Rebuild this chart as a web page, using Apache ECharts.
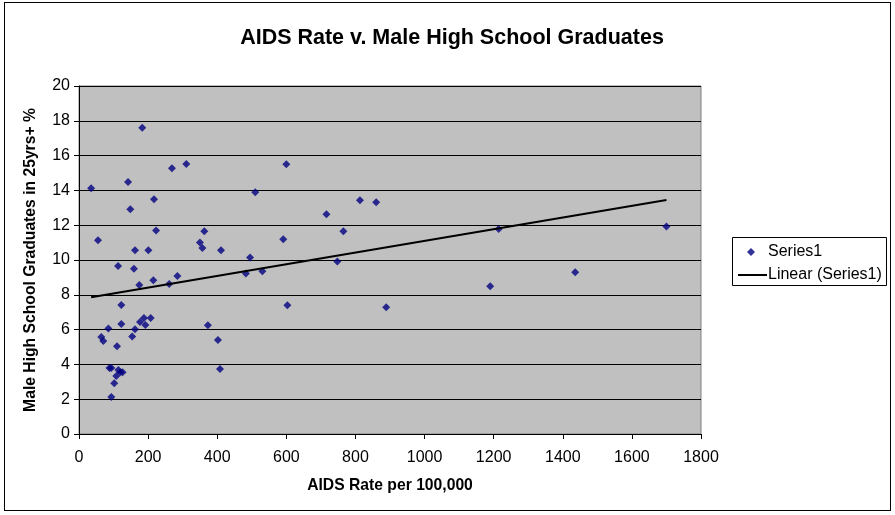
<!DOCTYPE html>
<html>
<head>
<meta charset="utf-8">
<script src="https://cdn.jsdelivr.net/npm/echarts@6/dist/echarts.min.js"></script>
<style>
  html, body { margin: 0; padding: 0; background: #fff; }
  #frame { position: absolute; left: 4px; top: 2px; width: 885px; height: 507px; border: 1px solid #000; }
  #chart { position: absolute; left: 0; top: 0; width: 895px; height: 515px; }
</style>
</head>
<body>
<div id="frame"></div>
<div id="chart"></div>
<script>
  // AIDS rate per 100,000 vs. male high school graduates (25yrs+) %
  const aidsRate = [
    35, 55, 64.6, 70.4, 85, 88, 93.5, 93.5, 102, 108,
    110, 113, 114, 119.5, 122.5, 122.5, 126, 142, 148.5, 154,
    159, 162, 162, 174.6, 176.5, 183, 188, 192, 200.7, 207.5,
    215, 217, 223, 261, 269, 284.6, 310.6, 350, 357, 362.7,
    373, 402, 408, 411, 483, 495, 510, 530.6, 591, 600,
    603, 716, 747.6, 765, 813, 860, 889, 1190, 1214.6, 1436,
    1700
  ];
  const gradPct = [
    14.12, 11.13, 5.57, 5.34, 6.07, 3.79, 3.79, 2.13, 2.91, 3.33,
    5.04, 9.66, 3.68, 3.55, 7.41, 6.32, 3.55, 14.48, 12.91, 5.61,
    9.5, 10.56, 6.02, 8.56, 6.44, 17.6, 6.67, 6.26, 10.56, 6.67,
    8.83, 13.49, 11.7, 8.62, 15.27, 9.08, 15.52, 11.0, 10.69, 11.65,
    6.25, 5.40, 3.74, 10.56, 9.23, 10.15, 13.9, 9.35, 11.19, 15.5,
    7.40, 12.63, 9.92, 11.65, 13.43, 13.32, 7.28, 8.49, 11.78, 9.29,
    11.93
  ];
  const xTicks = [0, 200, 400, 600, 800, 1000, 1200, 1400, 1600, 1800];
  const yTicks = [0, 2, 4, 6, 8, 10, 12, 14, 16, 18, 20];

  const points = aidsRate.map((x, i) => [x, gradPct[i]]);

  // least squares trendline, like Excel's "Linear (Series1)"
  function linearFit(xs, ys) {
    const n = xs.length;
    const mx = xs.reduce((a, b) => a + b, 0) / n;
    const my = ys.reduce((a, b) => a + b, 0) / n;
    let sxy = 0, sxx = 0;
    for (let i = 0; i < n; i++) {
      sxy += (xs[i] - mx) * (ys[i] - my);
      sxx += (xs[i] - mx) * (xs[i] - mx);
    }
    const slope = sxy / sxx;
    return { slope, intercept: my - slope * mx };
  }
  const fit = linearFit(aidsRate, gradPct);
  const xMin = Math.min(...aidsRate);
  const xMax = Math.max(...aidsRate);
  const trend = [xMin, xMax].map(x => [x, fit.intercept + fit.slope * x]);

  const FONT = "Arial, 'Liberation Sans', sans-serif";
  const legendText = { fontFamily: FONT, fontSize: 16, color: "#000" };

  const chart = echarts.init(document.getElementById("chart"), null, { renderer: "canvas" });
  chart.setOption({
    animation: false,
    backgroundColor: "transparent",
    title: {
      text: "AIDS Rate v. Male High School Graduates",
      left: 447, top: 22, textAlign: "center",
      textStyle: { fontFamily: FONT, fontSize: 21.5, fontWeight: "bold", color: "#000" }
    },
    grid: {
      left: 79, top: 86, width: 622, height: 348,
      show: true, backgroundColor: "#C0C0C0", borderColor: "#808080", borderWidth: 1
    },
    graphic: [{
      type: "rect", left: 732, top: 237, z: 0,
      shape: { width: 154, height: 48 },
      style: { fill: "#fff", stroke: "#000", lineWidth: 1 }
    }],
    legend: [
      {
        left: 747, top: 244, padding: 0,
        itemWidth: 8, itemHeight: 8,
        textStyle: Object.assign({ padding: [0, 0, 0, 8] }, legendText),
        data: [{ name: "Series1", icon: "diamond", itemStyle: { color: "#000080" } }]
      },
      {
        left: 738, top: 267, padding: 0,
        itemWidth: 29, itemHeight: 2,
        textStyle: Object.assign({ padding: [0, 0, 0, -4] }, legendText),
        data: [{ name: "Linear (Series1)", icon: "rect", itemStyle: { color: "#000" } }]
      }
    ],
    xAxis: {
      type: "value", min: 0, max: 1800, interval: 200,
      name: "AIDS Rate per 100,000", nameLocation: "middle", nameGap: 44,
      nameTextStyle: { fontFamily: FONT, fontSize: 15.7, fontWeight: "bold", color: "#000" },
      axisLine: { show: true, lineStyle: { color: "#000", width: 1 } },
      axisTick: { show: true, length: 5, lineStyle: { color: "#000" } },
      axisLabel: { fontFamily: FONT, fontSize: 16, color: "#000", margin: 16,
        formatter: v => xTicks.includes(v) ? String(v) : "" },
      splitLine: { show: false }
    },
    yAxis: {
      type: "value", min: 0, max: 20, interval: 2,
      name: "Male High School Graduates in 25yrs+ %", nameLocation: "middle", nameGap: 40,
      nameTextStyle: { fontFamily: FONT, fontSize: 15.7, fontWeight: "bold", color: "#000" },
      axisLine: { show: true, lineStyle: { color: "#000", width: 1 } },
      axisTick: { show: true, length: 5, lineStyle: { color: "#000" } },
      axisLabel: { fontFamily: FONT, fontSize: 16, color: "#000", margin: 9,
        formatter: v => yTicks.includes(v) ? String(v) : "" },
      splitLine: { show: true, lineStyle: { color: "#000", width: 1 } }
    },
    series: [
      {
        name: "Series1", type: "scatter", data: points,
        symbol: "diamond", symbolSize: 8,
        itemStyle: { color: "#000080" }
      },
      {
        name: "Linear (Series1)", type: "line", data: trend,
        symbol: "none", lineStyle: { color: "#000", width: 2 },
        itemStyle: { color: "#000" }
      }
    ]
  });
</script>
</body>
</html>
